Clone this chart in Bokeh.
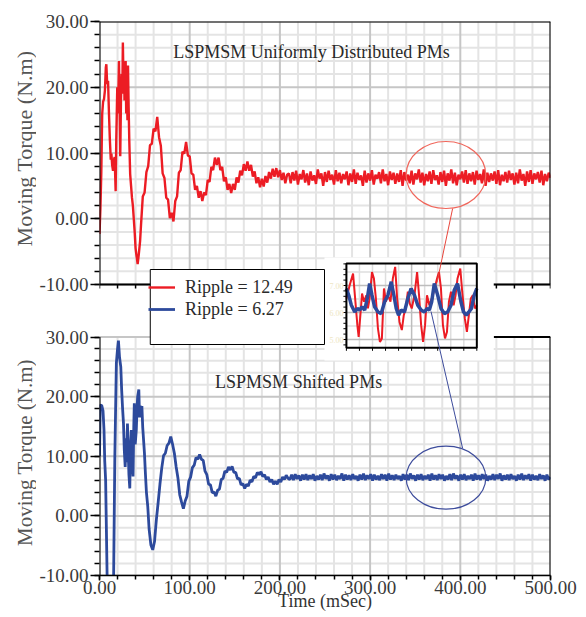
import numpy as np
from bokeh.plotting import figure
from bokeh.layouts import row
from bokeh.models import (Range1d, FixedTicker, SingleIntervalTicker,
                          NumeralTickFormatter, Legend, LegendItem)
from bokeh.core.properties import value
from bokeh.embed import file_html
from bokeh.resources import INLINE

# ----------------------------- data -----------------------------
time_limits = [0, 500]
torque_ticks = [-10, 0, 10, 20, 30]
panel_titles = ["LSPMSM Uniformly Distributed PMs", "LSPMSM Shifted PMs"]
legend_labels = ["Ripple = 12.49", "Ripple = 6.27"]
y_title = "Moving Torque (N.m)"
x_title = "Time (mSec)"
inset_ticks = [5, 6, 7]

# uniformly distributed PMs (red) - start-up transient
red_start_t = [0, 1, 2, 3, 4, 5, 6, 7,
               7.6, 8.5, 9.5, 10.5, 11.5, 12.5, 13.2, 14,
               15, 15.8, 16.8, 17.9, 18.6, 19.7, 20.5, 21.6,
               22.3, 23, 23.8, 24.6, 25.3, 25.9, 26.6, 27.2,
               27.7, 28.3, 29, 29.6, 30.3, 31, 31.6, 32.3,
               33, 34, 35, 36, 37, 38, 39, 40,
               41, 42.3, 43.5, 45, 46]
red_start_v = [-2.3, 1.5, 7.0, 16.0, 17.8, 18.2, 19.5, 23.0,
               23.5, 20.5, 21.0, 16.0, 12.0, 9.0, 9.9, 8.2,
               7.3, 8.8, 9.4, 4.2, 12.0, 20.0, 16.0, 24.0,
               17.0, 9.5, 18.0, 22.0, 19.0, 26.8, 21.0, 23.5,
               18.0, 22.0, 24.0, 16.0, 21.0, 15.0, 23.3, 17.0,
               12.0, 6.8, 5.0, 3.2, 2.0, 0.0, -2.0, -4.5,
               -5.6, -6.9, -5.5, -3.4, -1.0]
# sampled every 2 ms, 48 .. 208 ms
red_mid_v = [3.4, 4.0, 7.1, 8.0, 11.2, 11.4, 13.7, 13.3, 15.5, 12.4,
             11.1, 6.9, 6.2, 3.2, 2.9, 0.1, 0.9, -0.4, 2.7, 3.4,
             7.0, 7.4, 10.2, 9.9, 11.7, 9.6, 9.5, 6.9, 6.7, 4.4,
             5.0, 3.2, 4.2, 2.7, 4.0, 3.6, 5.9, 5.6, 7.9, 7.4,
             9.3, 8.2, 9.3, 7.4, 7.9, 5.7, 6.3, 4.4, 5.3, 3.9,
             5.3, 4.4, 6.3, 5.5, 7.3, 6.6, 8.3, 7.3, 8.7, 7.3,
             8.2, 6.4, 7.2, 5.4, 6.3, 4.8, 6.1, 4.9, 6.5, 5.5,
             7.1, 6.1, 7.6, 6.4, 7.7, 6.3, 7.4, 5.9, 7.0, 5.4, 6.7]
# sampled every 2 ms, 210 .. 500 ms
red_tail_v = [6.9, 5.4, 7.1, 5.8, 7.3, 5.2, 6.8, 6.0, 7.4, 5.5,
              6.9, 5.1, 7.2, 5.8, 6.6, 5.3, 7.5, 6.1, 6.9, 5.0,
              7.1, 5.6, 7.3, 5.9, 6.7, 5.2, 7.4, 5.7, 7.0, 5.4,
              6.8, 6.0, 7.2, 5.1, 6.9, 5.6, 7.5, 5.3, 7.0, 5.9,
              6.6, 5.0, 7.3, 5.5, 6.9, 5.8, 7.4, 5.2, 6.7, 6.1,
              7.1, 5.4, 7.5, 5.7, 6.8, 5.1, 7.2, 5.9, 7.0, 5.3,
              6.9, 5.6, 7.4, 5.0, 7.1, 5.8, 6.7, 5.4, 7.3, 5.2,
              6.9, 6.0, 7.5, 5.5, 7.0, 5.1, 6.8, 5.7, 7.2, 5.3,
              7.4, 5.9, 6.6, 5.2, 7.1, 5.6, 7.3, 5.0, 6.9, 5.8,
              7.5, 5.4, 7.0, 5.1, 6.7, 6.0, 7.2, 5.5, 7.4, 5.3,
              6.9, 5.7, 7.1, 5.2, 7.3, 5.9, 6.8, 5.4, 7.5, 5.0,
              7.0, 5.6, 6.9, 5.8, 7.2, 5.3, 7.4, 5.1, 6.7, 5.7,
              7.1, 5.5, 7.3, 5.9, 6.9, 5.2, 7.0, 5.4, 7.5, 5.8,
              6.8, 5.0, 7.2, 5.6, 7.4, 5.3, 6.9, 6.0, 7.1, 5.5,
              7.3, 5.1, 6.8, 5.7, 7.0, 6.2]

# shifted PMs (blue) - start-up transient
blue_start_t = [0, 0.8, 2.5, 3.9, 5, 5.8, 6.8, 8.4,
                10, 12.5, 15.6, 17, 18.7, 20, 21, 22.2,
                23.6, 24.6, 25.6, 26.6, 27.5, 28.5, 29.3, 30.1,
                31, 31.8, 32.6, 33.6, 34.4, 35.3, 36.2, 37.2,
                38, 38.6, 39.6, 40.8, 41.6, 42.3, 43.6, 44.4,
                45.1, 46, 47, 47.9, 49.8, 50.9, 52, 53.5]
blue_start_v = [10.0, 18.6, 18.5, 17.6, 14.4, 9.2, 6.0, -9.8,
                -14.0, -14.0, -11.0, 10.0, 25.6, 28.0, 29.4, 26.6,
                25.0, 21.0, 18.0, 15.5, 11.0, 8.2, 13.0, 9.0,
                15.5, 11.0, 7.0, 4.6, 12.0, 14.4, 9.0, 6.6,
                15.0, 18.9, 12.0, 14.4, 18.0, 20.0, 21.2, 16.5,
                18.5, 17.4, 18.4, 14.9, 10.6, 7.1, 4.0, 1.6]
# sampled every 2 ms, 55 .. 209 ms
blue_mid_v = [-2.2, -4.9, -5.7, -4.3, -0.7, 2.2, 5.3, 8.0, 10.1, 10.5,
              11.8, 12.2, 13.3, 12.0, 10.5, 8.2, 6.3, 3.5, 2.3, 1.2,
              2.5, 3.3, 5.8, 6.5, 8.1, 8.5, 9.8, 9.5, 10.3, 9.5,
              9.3, 7.5, 6.9, 5.3, 5.2, 3.9, 4.0, 3.3, 4.3, 4.5,
              6.1, 6.3, 7.5, 7.3, 8.2, 7.7, 8.3, 7.3, 7.3, 6.2,
              6.3, 5.2, 5.4, 4.6, 5.3, 5.0, 6.0, 5.7, 6.6, 6.4,
              7.3, 6.9, 7.4, 6.6, 6.9, 6.1, 6.5, 5.7, 6.1, 5.3,
              5.8, 5.3, 6.1, 5.7, 6.5, 6.1, 6.8, 6.3]
# sampled every 2 ms, 211 .. 500 ms
blue_tail_v = [6.1, 6.9, 6.0, 7.0, 6.2, 6.8, 5.9, 6.9, 6.1, 7.0,
               6.0, 6.8, 6.2, 7.0, 5.9, 6.7, 6.1, 6.9, 6.0, 7.1,
               6.2, 6.8, 5.9, 7.0, 6.1, 6.9, 6.0, 6.7, 6.2, 7.1,
               5.9, 6.9, 6.1, 6.8, 6.0, 7.0, 6.2, 6.7, 5.9, 6.9,
               6.1, 7.1, 6.0, 6.8, 6.2, 7.0, 5.9, 6.9, 6.1, 6.7,
               6.0, 7.0, 6.2, 6.9, 5.9, 7.1, 6.1, 6.8, 6.0, 6.9,
               6.2, 6.7, 5.9, 7.0, 6.1, 6.9, 6.0, 7.1, 6.2, 6.8,
               5.9, 6.9, 6.1, 7.0, 6.0, 6.7, 6.2, 6.9, 5.9, 7.1,
               6.1, 6.8, 6.0, 7.0, 6.2, 6.9, 5.9, 6.7, 6.1, 7.0,
               6.0, 7.1, 6.2, 6.8, 5.9, 6.9, 6.1, 7.0, 6.0, 6.7,
               6.2, 6.9, 5.9, 7.1, 6.1, 6.8, 6.0, 7.0, 6.2, 6.9,
               5.9, 6.7, 6.1, 7.0, 6.0, 6.9, 6.2, 7.1, 5.9, 6.8,
               6.1, 6.9, 6.0, 7.0, 6.2, 6.7, 5.9, 6.9, 6.1, 7.1,
               6.0, 6.8, 6.2, 7.0, 5.9, 6.9, 6.1, 6.7, 6.0, 7.0,
               6.2, 6.8, 5.9, 6.9, 6.1, 6.5]

# zoomed window (inset), ms
inset_red_t = [380.00, 380.25, 380.51, 380.69, 380.84, 380.94, 381.09, 381.20, 381.35, 381.53,
               381.65, 381.78, 381.96, 382.11, 382.26, 382.42, 382.57, 382.72, 382.88, 383.03,
               383.18, 383.38, 383.56, 383.74, 383.89, 384.07, 384.25, 384.40, 384.55, 384.71,
               384.86, 385.01, 385.22, 385.42, 385.57, 385.73, 385.88, 386.03, 386.18, 386.36,
               386.54, 386.74, 386.95, 387.10, 387.25, 387.40, 387.56, 387.71, 387.86, 388.02,
               388.22, 388.37, 388.52, 388.73, 388.88, 389.08, 389.24, 389.39, 389.54, 389.69,
               389.85, 390.00]
inset_red_v = [6.52, 7.01, 7.44, 6.40, 5.53, 5.10, 6.02, 6.70, 6.40, 6.64,
               6.15, 6.52, 7.50, 7.26, 6.52, 5.40, 4.91, 5.04, 6.89, 6.40,
               6.64, 6.40, 7.26, 7.69, 6.52, 5.65, 5.35, 5.90, 6.15, 6.77,
               6.33, 6.15, 6.64, 7.50, 6.64, 5.53, 4.91, 5.53, 6.64, 6.27,
               6.52, 6.83, 7.26, 7.50, 6.89, 5.53, 5.04, 5.28, 6.40, 6.77,
               6.27, 6.64, 7.26, 7.63, 6.77, 5.78, 5.28, 5.90, 6.52, 6.64,
               6.15, 6.27]
inset_blue_t = [380.00, 380.18, 380.38, 380.64, 380.84, 381.02, 381.20, 381.40, 381.60, 381.78,
                381.96, 382.16, 382.42, 382.67, 382.93, 383.18, 383.44, 383.64, 383.82, 384.00,
                384.20, 384.45, 384.71, 384.96, 385.22, 385.47, 385.73, 385.98, 386.18, 386.36,
                386.54, 386.74, 387.00, 387.25, 387.51, 387.76, 388.02, 388.27, 388.52, 388.78,
                388.98, 389.19, 389.39, 389.59, 389.80, 390.00]
inset_blue_v = [6.89, 6.64, 6.27, 6.02, 6.15, 6.09, 6.21, 6.09, 6.52, 7.07,
                6.64, 6.21, 6.02, 5.96, 6.40, 6.64, 7.14, 6.64, 6.15, 5.90,
                6.09, 6.02, 6.52, 6.89, 6.64, 6.27, 6.09, 6.02, 6.15, 6.09,
                6.40, 7.07, 6.64, 6.15, 5.96, 6.02, 6.27, 6.83, 7.07, 6.40,
                6.02, 5.90, 6.02, 6.15, 6.64, 6.89]

red_t = red_start_t + list(np.linspace(48, 208, len(red_mid_v))) + list(np.linspace(210, 500, len(red_tail_v)))
red_v = red_start_v + red_mid_v + red_tail_v
blue_t = blue_start_t + list(np.linspace(55, 209, len(blue_mid_v))) + list(np.linspace(211, 500, len(blue_tail_v)))
blue_v = blue_start_v + blue_mid_v + blue_tail_v

# ----------------------------- layout / style -----------------------------
PAGE_W, PAGE_H = 586, 617
LW = 36                                   # strip holding the rotated axis titles
PX0, PY0 = 97, 21                         # frame top-left on the page
PX1, PY1 = 550, 575                       # frame bottom-right on the page
W = PAGE_W - LW
ML, MR, MT, MB = PX0 - LW, PAGE_W - PX1, PY0, PAGE_H - PY1
FW, FH = PX1 - PX0, PY1 - PY0

RED = "#ec1c24"
BLUE = "#2d4a9c"
GRID_MINOR = "#e4e4e4"
GRID_MAJOR = "#c6c6c6"
FONT = "Liberation Serif"


def lin(v_a, px_a, v_b, px_b, px):
    return v_a + (px - px_a) * (v_b - v_a) / (px_b - px_a)


# top panel: 30 at page y 21, -10 at 284 ; bottom panel: 30 at 336.5, -10 at 575
y_top = Range1d(lin(30, 21, -10, 284, PY1), lin(30, 21, -10, 284, PY0))
y_bot = Range1d(lin(30, 336.5, -10, 575, PY1), lin(30, 336.5, -10, 575, PY0))
# inset: 7 at page y 285, 5 at 339 ; 380 ms at page x 345, 390 ms at 476
y_in = Range1d(lin(7, 285, 5, 339, PY1), lin(7, 285, 5, 339, PY0))
x_in = Range1d(lin(380, 345, 390, 476, PX0), lin(380, 345, 390, 476, PX1))
x_main = Range1d(time_limits[0], time_limits[1])


def xv(rng, px):
    return rng.start + (px - PX0) * (rng.end - rng.start) / FW


def yv(rng, py):
    return rng.end + (py - PY0) * (rng.start - rng.end) / FH


def top_to_main(v):
    py = PY0 + (y_top.end - v) / (y_top.end - y_top.start) * FH
    return yv(y_bot, py)


p = figure(width=W, height=PAGE_H, x_range=x_main, y_range=y_bot,
           output_backend="svg", toolbar_location=None,
           min_border_left=ML, min_border_right=MR,
           min_border_top=MT, min_border_bottom=MB)
p.title = None
p.extra_y_ranges = {"top": y_top, "inset": y_in}
p.extra_x_ranges = {"inset": x_in}
p.outline_line_color = None
p.xgrid.visible = False
p.ygrid.visible = False
p.background_fill_color = "white"
p.border_fill_color = "white"

# ---- y axis: one axis carrying the ticks of both panels ----
major_pos, minor_pos, overrides = [], [], {}
for v in torque_ticks:
    a = round(top_to_main(v), 6)
    b = round(float(v), 6)
    major_pos += [a, b]
    overrides[a] = f"{v:.2f}"
    overrides[b] = f"{v:.2f}"
for v in range(torque_ticks[0], torque_ticks[-1] + 1, 2):
    minor_pos += [round(top_to_main(v), 6), round(float(v), 6)]
yax = p.yaxis[0]
yax.ticker = FixedTicker(ticks=major_pos, minor_ticks=minor_pos)
yax.major_label_overrides = overrides
yax.axis_line_color = None
yax.major_tick_out, yax.major_tick_in = 9, 0
yax.minor_tick_out, yax.minor_tick_in = 5, 0
yax.major_tick_line_color = "black"
yax.minor_tick_line_color = "black"
yax.major_tick_line_width = 1.5
yax.minor_tick_line_width = 1.5
yax.major_label_standoff = 2
yax.major_label_text_font = FONT
yax.major_label_text_font_size = "19px"
yax.major_label_text_color = "#3a3a3a"

xax = p.xaxis[0]
xax.ticker = SingleIntervalTicker(interval=100, num_minor_ticks=5)
xax.formatter = NumeralTickFormatter(format="0.00")
xax.axis_line_color = "black"
xax.axis_line_width = 1.5
xax.major_tick_out, xax.major_tick_in = 5, 0
xax.minor_tick_out, xax.minor_tick_in = 4, 0
xax.major_tick_line_color = "black"
xax.minor_tick_line_color = "black"
xax.major_tick_line_width = 1.5
xax.minor_tick_line_width = 1.5
xax.major_label_standoff = 0
xax.major_label_text_font = FONT
xax.major_label_text_font_size = "19px"
xax.major_label_text_color = "#3a3a3a"
xax.axis_label = x_title
xax.axis_label_text_font = FONT
xax.axis_label_text_font_size = "18px"
xax.axis_label_text_font_style = "normal"
xax.axis_label_text_color = "#333333"
xax.axis_label_standoff = -6

# ---- panel grids ----
t_minor = [t for t in range(0, 501, 20) if t % 100]
t_major = [t for t in range(0, 501, 100)]
v_minor = [v for v in range(-10, 31, 2) if v % 10]
v_major = [v for v in range(-10, 31, 10)]


def grid_lines(ts, vs):
    xs = [[float(t), float(t)] for t in ts] + [[0.0, 500.0] for _ in vs]
    ys = [[-10.0, 30.0] for _ in ts] + [[float(v), float(v)] for v in vs]
    return xs, ys


for rname in ("top", "default"):
    xs, ys = grid_lines(t_minor, v_minor)
    p.multi_line(xs=xs, ys=ys, line_color=GRID_MINOR, line_width=2, y_range_name=rname)
    xs, ys = grid_lines(t_major, v_major)
    p.multi_line(xs=xs, ys=ys, line_color=GRID_MAJOR, line_width=2, y_range_name=rname)

# ---- curves ----
red_r = p.line(red_t, red_v, line_color=RED, line_width=2.4, y_range_name="top")
blue_r = p.line(blue_t, blue_v, line_color=BLUE, line_width=2.8)

# ---- panel frames ----
p.segment(x0=[0, 500, 0, 0], x1=[0, 500, 500, 500], y0=[-10, -10, 30, -10], y1=[30, 30, 30, -10],
          line_color="black", line_width=2, y_range_name="top")
tick_len_top = 4 * (y_top.end - y_top.start) / FH
t_all = list(range(0, 501, 20))
p.segment(x0=t_all, x1=t_all, y0=[-10] * len(t_all), y1=[-10 - tick_len_top] * len(t_all),
          line_color="black", line_width=1.5, y_range_name="top")
p.segment(x0=[0, 500, xv(x_main, 493)], x1=[0, 500, 500], y0=[-10, -10, 30], y1=[30, 30, 30],
          line_color="black", line_width=2)


# ---- zoom ellipses ----
def ellipse_from_page(l, t, r, b, rname, rng, color):
    cx, cy = xv(x_main, (l + r) / 2), yv(rng, (t + b) / 2)
    w = xv(x_main, r) - xv(x_main, l)
    h = yv(rng, t) - yv(rng, b)
    p.ellipse(x=[cx], y=[cy], width=[w], height=[h], fill_color=None,
              line_color=color, line_width=1.2, y_range_name=rname)


ellipse_from_page(405, 141, 485, 208, "top", y_top, "#f0675c")
ellipse_from_page(405, 445.7, 485, 508.7, "default", y_bot, "#3d4c9c")

# ---- white area behind legend & inset ----
p.quad(left=[xv(x_main, 323)], right=[xv(x_main, 493)], top=[yv(y_bot, 257)], bottom=[yv(y_bot, 360)],
       fill_color="white", line_color=None)
p.quad(left=[xv(x_main, 148)], right=[xv(x_main, 323)], top=[yv(y_bot, 269)], bottom=[yv(y_bot, 344)],
       fill_color="white", line_color="black", line_width=1)

# ---- inset ----
in_l, in_r = 380, 390
in_top, in_bot = yv(y_in, 263), yv(y_in, 347.3)
iv = [in_l + k for k in range(1, 10) if k != 5]
ih = [4.5 + 0.5 * k for k in range(1, 7) if (4.5 + 0.5 * k) not in inset_ticks]
p.multi_line(xs=[[float(t), float(t)] for t in iv] + [[in_l, in_r] for _ in ih],
             ys=[[in_bot, in_top] for _ in iv] + [[h, h] for h in ih],
             line_color="#dedede", line_width=1.5, x_range_name="inset", y_range_name="inset")
p.multi_line(xs=[[385.0, 385.0]] + [[in_l, in_r] for _ in inset_ticks],
             ys=[[in_bot, in_top]] + [[float(h), float(h)] for h in inset_ticks],
             line_color="#bdbdbd", line_width=1.5, x_range_name="inset", y_range_name="inset")
p.line(inset_red_t, inset_red_v, line_color=RED, line_width=2,
       x_range_name="inset", y_range_name="inset")
p.line(inset_blue_t, inset_blue_v, line_color=BLUE, line_width=3.5,
       x_range_name="inset", y_range_name="inset")
p.quad(left=[in_l], right=[in_r], top=[in_top], bottom=[in_bot], fill_color=None,
       line_color="black", line_width=2, x_range_name="inset", y_range_name="inset")
dx = 3 * (x_in.end - x_in.start) / FW
dy = 3 * (y_in.end - y_in.start) / FH
lt = [round(4.8 + 0.2 * k, 2) for k in range(0, 16)]
p.segment(x0=[in_l] * len(lt), x1=[in_l - dx] * len(lt), y0=lt, y1=lt, line_color="black",
          line_width=1, x_range_name="inset", y_range_name="inset")
bt = [in_l + k for k in range(0, 11)]
p.segment(x0=bt, x1=bt, y0=[in_bot] * len(bt), y1=[in_bot - dy] * len(bt), line_color="black",
          line_width=1, x_range_name="inset", y_range_name="inset")
p.text(x=[in_l - dx] * 3, y=inset_ticks, text=[f"{v:.2f}" for v in inset_ticks],
       text_font=value(FONT), text_font_size=value("8px"), text_color="#eee6c4",
       text_align="right", text_baseline="middle", x_range_name="inset", y_range_name="inset")

# ---- connector lines ----
p.segment(x0=[xv(x_main, 451.7)], y0=[yv(y_top, 208)], x1=[xv(x_main, 436)], y1=[yv(y_top, 282)],
          line_color="#e8463c", line_width=1, y_range_name="top")
p.segment(x0=[xv(x_main, 430)], y0=[yv(y_bot, 311)], x1=[xv(x_main, 461.7)], y1=[yv(y_bot, 447.7)],
          line_color="#3d4c9c", line_width=1)

# ---- panel titles ----
p.text(x=[xv(x_main, 310)], y=[yv(y_top, 51.7)], text=[panel_titles[0]],
       text_font=value(FONT), text_font_size=value("18px"), text_color="#2a2a2a",
       text_align="center", text_baseline="middle", y_range_name="top")
p.text(x=[xv(x_main, 297)], y=[yv(y_bot, 381.7)], text=[panel_titles[1]],
       text_font=value(FONT), text_font_size=value("18px"), text_color="#2a2a2a",
       text_align="center", text_baseline="middle")

# ---- legend ----
legend = Legend(items=[LegendItem(label=legend_labels[0], renderers=[red_r]),
                       LegendItem(label=legend_labels[1], renderers=[blue_r])],
                location=(146 - PX0, PY1 - 320),
                padding=4, spacing=0, margin=0,
                glyph_width=27, glyph_height=22, label_height=22, label_standoff=10,
                label_text_font=FONT, label_text_font_size="18px", label_text_color="#2a2a2a",
                background_fill_alpha=0, border_line_color=None)
p.add_layout(legend)

# ---- strip with the rotated y-axis titles (shares the vertical scales) ----
s = figure(width=LW, height=PAGE_H, x_range=Range1d(0, LW), y_range=y_bot,
           output_backend="svg", toolbar_location=None,
           x_axis_location=None, y_axis_location=None,
           min_border_left=0, min_border_right=0, min_border_top=MT, min_border_bottom=MB)
s.title = None
s.extra_y_ranges = {"top": y_top}
s.outline_line_color = None
s.xgrid.visible = False
s.ygrid.visible = False
s.text(x=[24], y=[yv(y_top, 148)], text=[y_title], angle=np.pi / 2,
       text_font=value(FONT), text_font_size=value("22px"), text_color="#555555",
       text_align="center", text_baseline="middle", y_range_name="top")
s.text(x=[24], y=[yv(y_bot, 452)], text=[y_title], angle=np.pi / 2,
       text_font=value(FONT), text_font_size=value("21px"), text_color="#555555",
       text_align="center", text_baseline="middle")

layout = row(s, p, spacing=0)
open("out.html", "w").write(file_html(layout, INLINE))
